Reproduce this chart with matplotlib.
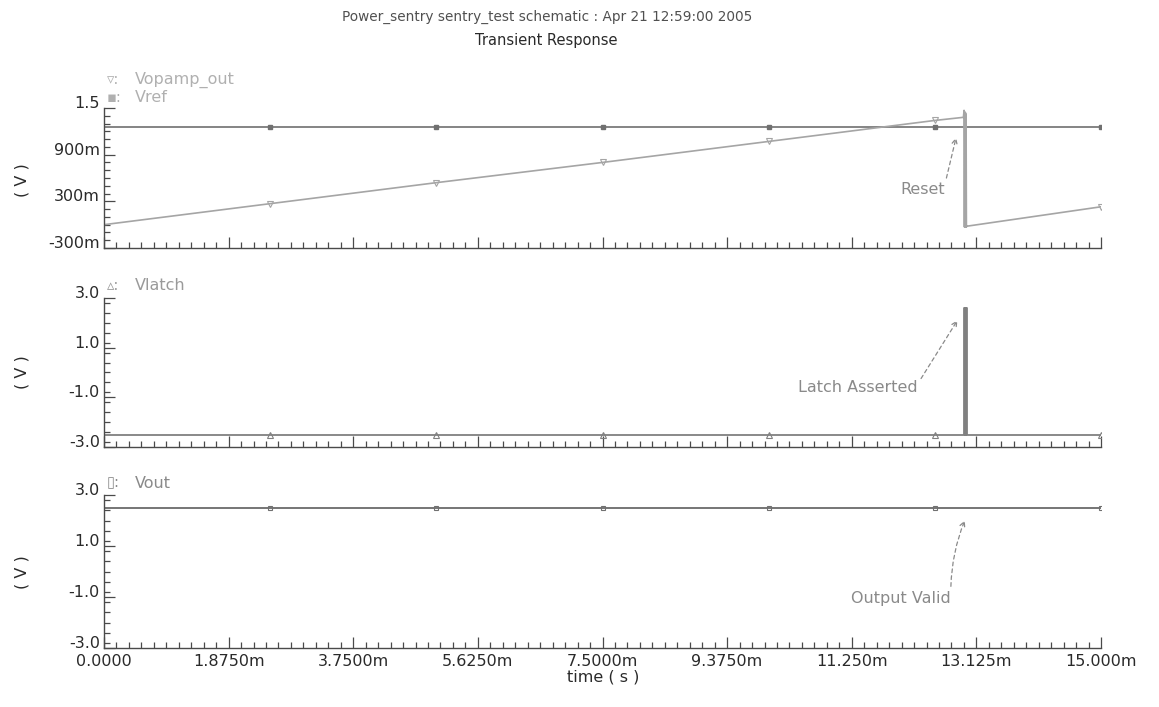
import matplotlib
matplotlib.use("Agg")
import matplotlib.pyplot as plt
from matplotlib.ticker import MultipleLocator, FixedLocator

# ---------------- data (time in ms, voltage in V) ----------------
t_opamp = [0.0, 2.5, 5.0, 7.5, 10.0, 12.5, 12.93, 12.94, 12.945, 12.95, 12.955,
           12.96, 12.965, 12.97, 12.975, 12.98, 15.0]
v_opamp = [0.0, 0.27, 0.54, 0.80, 1.07, 1.34, 1.38, 1.47, -0.03, 1.45, -0.03,
           1.44, -0.03, 1.42, -0.03, -0.02, 0.23]
t_opamp_mk = [2.5, 5.0, 7.5, 10.0, 12.5, 15.0]
v_opamp_mk = [0.27, 0.54, 0.80, 1.07, 1.34, 0.23]

t_ref = [0.0, 15.0]
v_ref = [1.25, 1.25]
t_ref_mk = [2.5, 5.0, 7.5, 10.0, 12.5, 15.0]
v_ref_mk = [1.25, 1.25, 1.25, 1.25, 1.25, 1.25]

t_latch = [0.0, 12.94, 12.94, 12.948, 12.948, 12.956, 12.956, 12.964, 12.964,
           12.972, 12.972, 12.98, 12.98, 15.0]
v_latch = [-2.5, -2.5, 2.6, 2.6, -2.5, -2.5, 2.6, 2.6, -2.5, -2.5, 2.6, 2.6,
           -2.5, -2.5]
t_latch_mk = [2.5, 5.0, 7.5, 10.0, 12.5, 15.0]
v_latch_mk = [-2.5, -2.5, -2.5, -2.5, -2.5, -2.5]

t_out = [0.0, 15.0]
v_out = [2.5, 2.5]
t_out_mk = [2.5, 5.0, 7.5, 10.0, 12.5, 15.0]
v_out_mk = [2.5, 2.5, 2.5, 2.5, 2.5, 2.5]

x_ticks = [0.0, 1.875, 3.75, 5.625, 7.5, 9.375, 11.25, 13.125, 15.0]
x_ticklabels = ["0.0000", "1.8750m", "3.7500m", "5.6250m", "7.5000m",
                "9.3750m", "11.250m", "13.125m", "15.000m"]
y1_ticks = [-0.3, 0.3, 0.9, 1.5]
y1_ticklabels = ["-300m", "300m", "900m", "1.5"]
y23_ticks = [-3.0, -1.0, 1.0, 3.0]
y23_ticklabels = ["-3.0", "-1.0", "1.0", "3.0"]

# ---------------- styling ----------------
W, H = 1159, 707
fig = plt.figure(figsize=(W / 100, H / 100), dpi=100)
fig.patch.set_facecolor("white")

AX_COL = "#4a4a4a"
TXT_COL = "#2a2a2a"
LEG_COL = "#b0b0b0"
ANN_COL = "#8a8a8a"
DASH = (0, (3, 2.5))
ANN_FS = 11.5


def px_axes(top, bottom):
    left, right = 104, 1101
    return fig.add_axes([left / W, 1 - bottom / H, (right - left) / W, (bottom - top) / H])


def style(ax, yticks, ylabels, ylim, yminor, show_x):
    ax.set_xlim(0, 15)
    ax.set_ylim(*ylim)
    for s in ("top", "right"):
        ax.spines[s].set_visible(False)
    for s in ("left", "bottom"):
        ax.spines[s].set_color(AX_COL)
        ax.spines[s].set_linewidth(1.0)
    ax.xaxis.set_major_locator(FixedLocator(x_ticks))
    ax.xaxis.set_minor_locator(MultipleLocator(0.1875))
    ax.yaxis.set_major_locator(FixedLocator(yticks))
    ax.yaxis.set_minor_locator(MultipleLocator(yminor))
    ax.tick_params(which="both", direction="in", color=AX_COL, width=0.9)
    ax.tick_params(which="major", length=8)
    ax.tick_params(which="minor", length=4)
    ax.tick_params(axis="y", which="major", pad=3, labelsize=11.5, labelcolor=TXT_COL)
    ax.tick_params(axis="x", which="major", pad=4, labelsize=11.5, labelcolor=TXT_COL)
    ax.set_yticklabels(ylabels)
    for lab in ax.get_yticklabels():
        lab.set_va("baseline")
    if show_x:
        ax.set_xticklabels(x_ticklabels)
    else:
        ax.set_xticklabels([])
    ax.set_facecolor("none")


def arrow(**kw):
    d = dict(arrowstyle="->", linestyle=DASH, color=ANN_COL, lw=0.9,
             shrinkA=1, shrinkB=0, mutation_scale=9, relpos=(1.0, 0.75))
    d.update(kw)
    return d


# top panel
ax1 = px_axes(108, 248)
ax1.plot(t_ref, v_ref, color="#707070", lw=1.2)
ax1.plot(t_ref_mk, v_ref_mk, ls="none", marker="s", ms=3.5, color="#707070")
ax1.plot(t_opamp, v_opamp, color="#a5a5a5", lw=1.2)
ax1.plot(t_opamp_mk, v_opamp_mk, ls="none", marker="v", ms=5, mfc="none",
         mec="#a5a5a5", mew=0.8)
style(ax1, y1_ticks, y1_ticklabels, (-0.3, 1.5), 0.1, False)
ax1.annotate("Reset", xy=(12.82, 1.12), xytext=(12.31, 0.45),
             fontsize=ANN_FS, color=ANN_COL, ha="center", va="center",
             arrowprops=arrow())

# middle panel
ax2 = px_axes(298, 447)
ax2.plot(t_latch, v_latch, color="#808080", lw=1.3)
ax2.plot(t_latch_mk, v_latch_mk, ls="none", marker="^", ms=5, mfc="none",
         mec="#808080", mew=0.8)
style(ax2, y23_ticks, y23_ticklabels, (-3.0, 3.0), 0.4, False)
ax2.annotate("Latch Asserted", xy=(12.84, 2.1), xytext=(11.34, -0.62),
             fontsize=ANN_FS, color=ANN_COL, ha="center", va="center",
             arrowprops=arrow())

# bottom panel
ax3 = px_axes(495, 648)
ax3.plot(t_out, v_out, color="#505050", lw=1.1)
ax3.plot(t_out_mk, v_out_mk, ls="none", marker="s", ms=3, mfc="none",
         mec="#707070", mew=0.8)
style(ax3, y23_ticks, y23_ticklabels, (-3.0, 3.0), 0.4, True)
ax3.annotate("Output Valid", xy=(12.95, 2.0), xytext=(11.99, -1.04),
             fontsize=ANN_FS, color=ANN_COL, ha="center", va="center",
             arrowprops=arrow(connectionstyle="arc3,rad=-0.1"))

# y labels
for yc in (180, 372, 572):
    fig.text(22 / W, 1 - yc / H, "( V )", rotation=90, ha="center", va="center",
             fontsize=11.5, color=TXT_COL)

# legends (symbol + name)
legend_items = [
    (80, "\u25bf:", "Vopamp_out", LEG_COL),
    (97, "\u25aa:", "Vref", LEG_COL),
    (285, "\u25b5:", "Vlatch", "#9a9a9a"),
    (483, "\u25af:", "Vout", "#8a8a8a"),
]
for yc, sym, name, col in legend_items:
    fig.text(107 / W, 1 - yc / H, sym, fontsize=10.5, color=col, ha="left", va="center")
    fig.text(135 / W, 1 - yc / H, name, fontsize=11.5, color=col, ha="left", va="center")

# titles
fig.text(547 / W, 1 - 17 / H, "Power_sentry sentry_test schematic : Apr 21 12:59:00 2005",
         fontsize=9.8, color="#505050", ha="center", va="center")
fig.text(546 / W, 1 - 40 / H, "Transient Response", fontsize=10.5, color=TXT_COL,
         ha="center", va="center")
fig.text(603 / W, 1 - 677 / H, "time ( s )", fontsize=11.5, color=TXT_COL,
         ha="center", va="center")

fig.savefig("out.png", dpi=100, facecolor="white")
